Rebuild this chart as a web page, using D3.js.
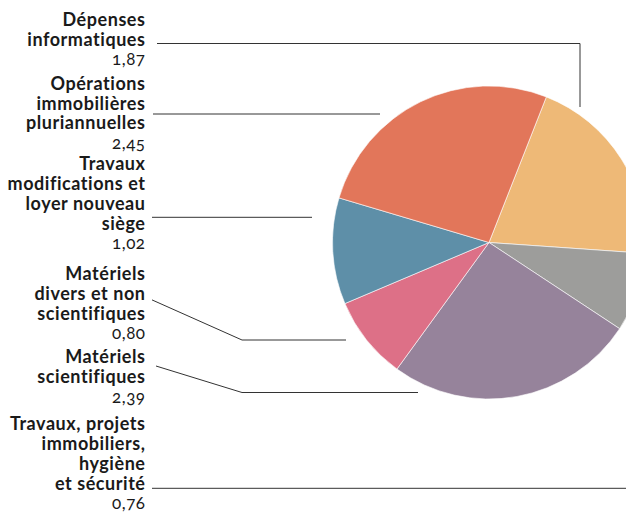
<!DOCTYPE html>
<html>
<head>
<meta charset="utf-8">
<script src="https://cdn.jsdelivr.net/npm/d3@7"></script>
<style>
  html, body { margin: 0; padding: 0; background: #fff; }
  svg { display: block; }
  .lbl { font-family: Lato, "Open Sans", sans-serif; font-weight: 700; font-size: 18px; letter-spacing: 0.55px; fill: #1a1a1a; font-variant-ligatures: none; font-feature-settings: "liga" 0, "dlig" 0; }
  .val { font-family: Lato, "Open Sans", sans-serif; font-weight: 400; font-size: 17px; letter-spacing: 0.5px; fill: #1a1a1a; font-feature-settings: "onum"; }
</style>
</head>
<body>
<svg id="chart" width="626" height="518"></svg>
<script>
// ---- data (clockwise order from the top-right slice) ----
const categories = [
  ["Dépenses", "informatiques"],
  ["Travaux, projets", "immobiliers,", "hygiène", "et sécurité"],
  ["Matériels", "scientifiques"],
  ["Matériels", "divers et non", "scientifiques"],
  ["Travaux", "modifications et", "loyer nouveau", "siège"],
  ["Opérations", "immobilières", "pluriannuelles"]
];
const values = [1.87, 0.76, 2.39, 0.80, 1.02, 2.45];
const valueLabels = ["1,87", "0,76", "2,39", "0,80", "1,02", "2,45"];
const colors = ["#EEB977", "#9D9D9B", "#96839B", "#DD7087", "#5E8FA8", "#E2765A"];
// order of the labels down the left column (indices into the arrays above)
const labelOrder = [0, 5, 4, 3, 2, 1];

// ---- layout ----
const svg = d3.select("#chart");
const cx = 489, cy = 242.5, R = 156.5;
const startAngle = 21.5 * Math.PI / 180;

const pie = d3.pie().sort(null).value(d => d)
  .startAngle(startAngle).endAngle(startAngle + 2 * Math.PI);
const arcs = pie(values);
const arc = d3.arc().innerRadius(0).outerRadius(R);

svg.append("g").attr("transform", `translate(${cx},${cy})`)
  .selectAll("path").data(arcs).join("path")
  .attr("d", arc)
  .attr("fill", (d, i) => colors[i])
  .attr("stroke", "#fff").attr("stroke-width", 0.6);

const textX = 145.5;
const lineH = 19.9, valH = 19.4;
const blockTop = [26, 89.6, 170, 280, 363.3, 430];
const leaders = [
  { line: 1, dy: -2.4, pts: [[580, null], [580, 107]] },
  { line: 1, dy: 4.5, pts: [[380, null]] },
  { line: 2, dy: 7.5, pts: [[312, null]] },
  { line: 1, dy: 0, pts: [[242, 340], [346, 340]] },
  { line: 0, dy: 2.7, pts: [[242, 392.5], [418, 392.5]] },
  { line: 3, dy: -1.4, pts: [[626, null]] }
];
const lineStarts = [157, 153, 152, 152, 156, 152];

labelOrder.forEach((idx, k) => {
  const lines = categories[idx];
  const y0 = blockTop[k];
  const g = svg.append("g");
  lines.forEach((t, j) => {
    g.append("text").attr("class", "lbl")
      .attr("x", textX).attr("y", y0 + j * lineH)
      .attr("text-anchor", "end").text(t);
  });
  g.append("text").attr("class", "val")
    .attr("x", textX).attr("y", y0 + (lines.length - 1) * lineH + valH)
    .attr("text-anchor", "end").text(valueLabels[idx]);

  const L = leaders[k];
  const ys = y0 + L.line * lineH + L.dy;
  const pts = [[lineStarts[k], ys]].concat(L.pts.map(p => [p[0], p[1] == null ? ys : p[1]]));
  svg.append("path")
    .attr("d", d3.line()(pts))
    .attr("fill", "none").attr("stroke", "#333").attr("stroke-width", 1);
});
</script>
</body>
</html>
